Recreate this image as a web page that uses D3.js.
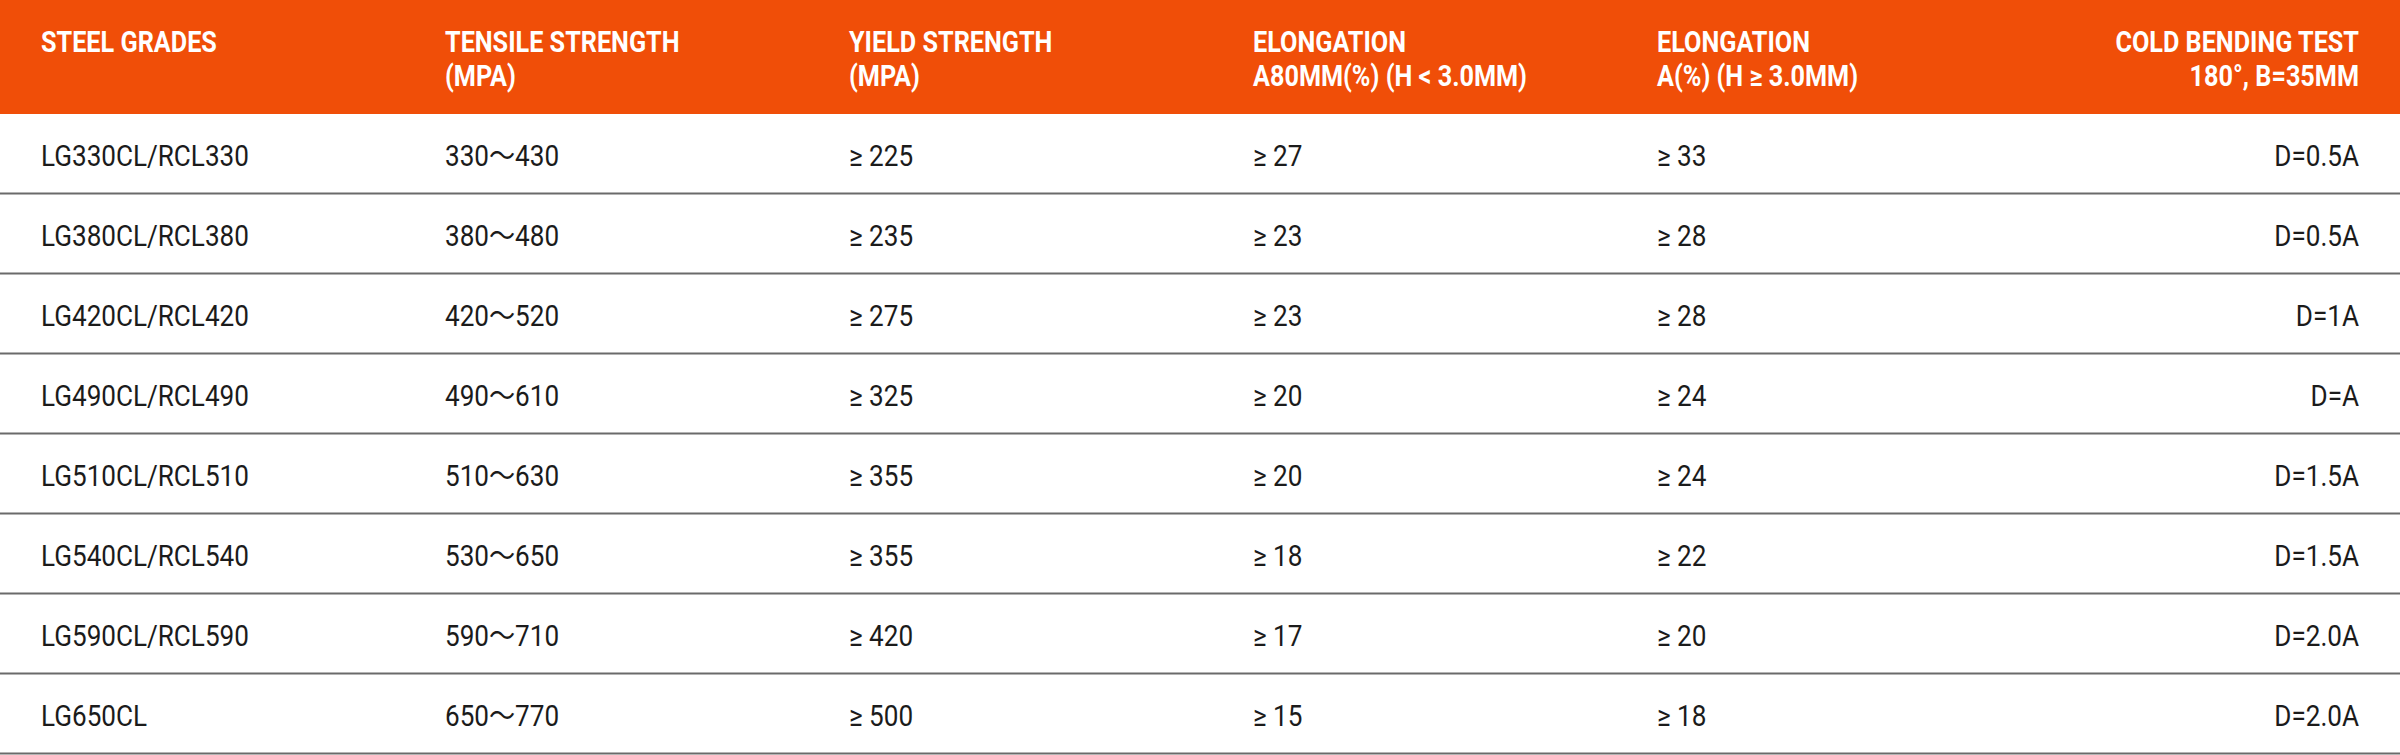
<!DOCTYPE html>
<html>
<head>
<meta charset="utf-8">
<script src="https://cdn.jsdelivr.net/npm/d3@7"></script>
<style>
  html, body { margin: 0; padding: 0; background: #fff; }
  text { font-family: Roboto, "Noto Sans CJK JP", sans-serif; }
</style>
</head>
<body>
<div id="chart"></div>
<script>
var width = 2400;
var height = 755;
var headH = 114;
var rowH = 80;
var squeeze = 0.87; // the original face is a condensed one

var headers = [
  ["STEEL GRADES"],
  ["TENSILE STRENGTH", "(MPA)"],
  ["YIELD STRENGTH", "(MPA)"],
  ["ELONGATION", "A80MM(%) (H < 3.0MM)"],
  ["ELONGATION", "A(%) (H ≥ 3.0MM)"],
  ["COLD BENDING TEST", "180°, B=35MM"]
];
var grades = ["LG330CL/RCL330", "LG380CL/RCL380", "LG420CL/RCL420", "LG490CL/RCL490",
              "LG510CL/RCL510", "LG540CL/RCL540", "LG590CL/RCL590", "LG650CL"];
var tensile = ["330～430", "380～480", "420～520", "490～610", "510～630", "530～650", "590～710", "650～770"];
var yieldStr = ["≥ 225", "≥ 235", "≥ 275", "≥ 325", "≥ 355", "≥ 355", "≥ 420", "≥ 500"];
var elongA80 = ["≥ 27", "≥ 23", "≥ 23", "≥ 20", "≥ 20", "≥ 18", "≥ 17", "≥ 15"];
var elongA = ["≥ 33", "≥ 28", "≥ 28", "≥ 24", "≥ 24", "≥ 22", "≥ 20", "≥ 18"];
var bending = ["D=0.5A", "D=0.5A", "D=1A", "D=A", "D=1.5A", "D=1.5A", "D=2.0A", "D=2.0A"];

var columns = [grades, tensile, yieldStr, elongA80, elongA, bending];

var svg = d3.select("#chart")
            .append("svg")
            .attr("width", width)
            .attr("height", height);

var xScale = d3.scaleLinear()
               .domain([0, 4])
               .range([41, 1657]);
var rightEdge = 2359;
function colX(i) { return i == 5 ? rightEdge : xScale(i); }
function anchor(i) { return i == 5 ? "end" : "start"; }

var yScale = d3.scaleBand()
               .domain(d3.range(grades.length))
               .range([headH, headH + rowH * grades.length]);

// header band
svg.append("rect")
   .attr("x", 0).attr("y", 0)
   .attr("width", width).attr("height", headH)
   .style("fill", "#f04e08");

headers.forEach(function(lines, i) {
  lines.forEach(function(t, j) {
    svg.append("text")
       .attr("transform", "translate(" + colX(i) + "," + (52 + j * 34) + ") scale(" + squeeze + ",1)")
       .attr("text-anchor", anchor(i))
       .style("font-size", "29px")
       .style("font-weight", "bold")
       .style("fill", "#fff")
       .text(t);
  });
});

// rows
var rows = svg.selectAll("g.row")
              .data(d3.range(grades.length))
              .enter()
              .append("g")
              .attr("class", "row")
              .attr("transform", function(d) { return "translate(0," + yScale(d) + ")"; });

rows.append("line")
    .attr("x1", 0).attr("x2", width)
    .attr("y1", rowH - 0.5).attr("y2", rowH - 0.5)
    .style("stroke", "#6a6a6a")
    .style("stroke-width", 2);

columns.forEach(function(col, i) {
  rows.append("text")
      .attr("transform", function(d) { return "translate(" + colX(i) + ",52) scale(" + squeeze + ",1)"; })
      .attr("text-anchor", anchor(i))
      .style("font-size", "30px")
      .style("fill", "#1b1b1b")
      .text(function(d) { return col[d]; });
});
</script>
</body>
</html>
